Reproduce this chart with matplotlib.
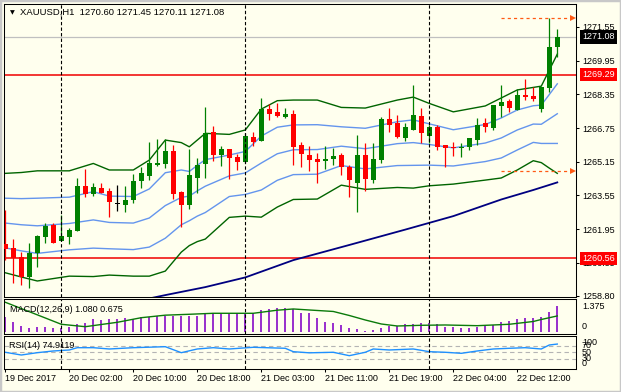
import numpy as np
import matplotlib.pyplot as plt
from matplotlib.transforms import blended_transform_factory
from matplotlib.patches import Rectangle

plt.rcParams['font.family'] = ['Liberation Sans', 'DejaVu Sans']
plt.rcParams['axes.linewidth'] = 0.75

# ---------- Data ---------- #
symbol = "XAUUSD,H1"

opens = [1261.24, 1261.07, 1260.64, 1259.69, 1260.80, 1261.59, 1262.14, 1261.40, 1261.59, 1261.87,
         1264.00, 1263.62, 1263.90, 1263.76, 1263.13, 1263.08, 1263.33, 1264.25, 1264.47, 1264.99,
         1265.04, 1265.66, 1263.71, 1263.11, 1264.39, 1265.03, 1266.56, 1265.48, 1265.74, 1265.37,
         1265.15, 1266.32, 1266.15, 1267.64, 1267.50, 1267.29, 1267.40, 1265.93, 1265.47, 1265.28,
         1265.18, 1265.28, 1265.47, 1264.91, 1264.15, 1265.47, 1264.28, 1265.23, 1267.18, 1267.00,
         1266.26, 1266.66, 1267.32, 1266.39, 1266.81, 1265.94, 1265.85, 1265.80, 1265.86, 1266.18,
         1266.97, 1266.74, 1267.81, 1268.05, 1267.61, 1268.32, 1268.27, 1267.65, 1268.66, 1270.60]
highs = [1262.86, 1261.48, 1260.86, 1261.28, 1261.67, 1262.22, 1262.22, 1262.62, 1261.99, 1264.36,
         1264.79, 1264.15, 1264.15, 1263.89, 1264.04, 1264.00, 1264.57, 1264.91, 1266.10, 1266.23,
         1266.21, 1265.94, 1263.75, 1265.75, 1265.31, 1267.76, 1266.85, 1265.90, 1265.76, 1265.52,
         1266.51, 1266.55, 1268.19, 1267.88, 1267.92, 1267.69, 1267.61, 1266.10, 1265.90, 1265.55,
         1265.88, 1265.79, 1265.58, 1264.99, 1266.42, 1266.02, 1266.02, 1267.29, 1267.71, 1267.37,
         1266.97, 1268.79, 1267.71, 1266.89, 1266.89, 1265.94, 1266.10, 1266.05, 1266.29, 1267.21,
         1267.21, 1267.84, 1268.79, 1268.13, 1268.60, 1269.08, 1268.68, 1268.68, 1271.99, 1271.45]
lows = [1260.48, 1259.40, 1259.30, 1259.14, 1260.14, 1261.30, 1261.28, 1261.40, 1261.23, 1261.87,
        1263.49, 1263.52, 1263.65, 1262.51, 1262.82, 1262.75, 1263.20, 1263.89, 1264.28, 1264.95,
        1264.84, 1263.36, 1262.06, 1262.89, 1263.65, 1264.39, 1265.20, 1264.95, 1264.31, 1264.76,
        1265.09, 1265.91, 1266.15, 1267.13, 1267.26, 1267.21, 1264.99, 1264.91, 1264.72, 1264.15,
        1264.80, 1264.99, 1264.52, 1263.49, 1262.78, 1263.77, 1264.12, 1265.10, 1266.55, 1266.26,
        1266.15, 1266.66, 1266.02, 1266.02, 1265.71, 1264.88, 1265.43, 1265.39, 1265.71, 1265.94,
        1266.55, 1266.66, 1267.29, 1267.50, 1267.61, 1268.08, 1268.05, 1267.52, 1268.47, 1270.11]
closes = [1261.03, 1260.56, 1259.69, 1260.80, 1261.62, 1262.10, 1261.30, 1261.62, 1261.91, 1264.00,
          1263.62, 1263.93, 1263.68, 1263.25, 1263.13, 1263.33, 1264.23, 1264.63, 1265.07, 1265.09,
          1265.66, 1263.60, 1263.11, 1264.52, 1265.01, 1266.51, 1265.48, 1265.74, 1265.34, 1265.15,
          1266.37, 1266.10, 1267.64, 1267.40, 1267.33, 1267.42, 1265.86, 1265.53, 1265.23, 1265.15,
          1265.28, 1265.44, 1264.91, 1264.28, 1265.47, 1264.33, 1265.28, 1267.18, 1266.89, 1266.34,
          1266.78, 1267.37, 1266.51, 1266.80, 1265.85, 1265.79, 1265.80, 1265.85, 1266.29, 1266.89,
          1266.78, 1267.84, 1267.99, 1267.71, 1268.32, 1268.24, 1268.13, 1268.68, 1270.58, 1271.08]

time_ticks = [0, 8, 16, 24, 32, 40, 48, 56, 64]
time_labels = ["19 Dec 2017", "20 Dec 02:00", "20 Dec 10:00", "20 Dec 18:00", "21 Dec 03:00",
               "21 Dec 11:00", "21 Dec 19:00", "22 Dec 04:00", "22 Dec 12:00"]
day_breaks = [7, 30, 53]

price_ticks = [1258.80, 1260.35, 1261.95, 1263.55, 1265.15, 1266.75, 1268.35, 1269.95, 1271.55]
bid_price = 1271.08
resistance = 1269.29
support = 1260.56
marker_start = 62
marker_levels = [1271.99, 1264.69]

# Bollinger bands (green = 2 dev, blue = 1 dev + middle)
band_idx = [0, 2, 4, 8, 11, 13, 16, 18, 20, 22, 23, 24, 25, 28, 30, 32,
            34, 36, 39, 42, 45, 49, 51, 53, 56, 60, 62, 64, 66, 67, 68, 69]
bb_upper2 = [1264.60, 1264.64, 1264.72, 1264.72, 1265.07, 1264.76, 1264.76, 1265.23, 1266.18, 1266.06,
             1265.86, 1266.18, 1266.50, 1266.45, 1266.66, 1267.65, 1268.05, 1268.08, 1268.08, 1267.73,
             1267.70, 1268.08, 1268.22, 1267.92, 1267.52, 1267.80, 1268.18, 1268.56, 1268.68, 1268.74,
             1269.50, 1270.26]
bb_upper1 = [1263.42, 1263.40, 1263.42, 1263.47, 1263.73, 1263.52, 1263.50, 1263.86, 1264.63, 1264.76,
             1264.69, 1264.98, 1265.25, 1265.47, 1265.64, 1266.37, 1266.79, 1266.90, 1266.91, 1266.81,
             1266.74, 1267.05, 1267.14, 1266.95, 1266.67, 1266.92, 1267.23, 1267.61, 1267.81, 1267.84,
             1268.34, 1268.85]
bb_middle = [1262.24, 1262.16, 1262.11, 1262.22, 1262.39, 1262.27, 1262.24, 1262.48, 1263.07, 1263.46,
             1263.52, 1263.77, 1263.99, 1264.48, 1264.62, 1265.09, 1265.53, 1265.72, 1265.73, 1265.89,
             1265.77, 1266.01, 1266.06, 1265.97, 1265.81, 1266.04, 1266.28, 1266.66, 1266.94, 1266.93,
             1267.18, 1267.43]
bb_lower1 = [1261.06, 1260.92, 1260.80, 1260.97, 1261.05, 1261.02, 1260.98, 1261.10, 1261.52, 1262.16,
             1262.35, 1262.57, 1262.74, 1263.50, 1263.60, 1263.81, 1264.27, 1264.54, 1264.56, 1264.97,
             1264.81, 1264.97, 1264.98, 1264.99, 1264.95, 1265.16, 1265.33, 1265.71, 1266.07, 1266.02,
             1266.02, 1266.02]
bb_lower2 = [1259.88, 1259.68, 1259.49, 1259.72, 1259.70, 1259.77, 1259.72, 1259.72, 1259.96, 1260.86,
             1261.17, 1261.36, 1261.48, 1262.51, 1262.57, 1262.52, 1263.00, 1263.36, 1263.38, 1264.04,
             1263.84, 1263.93, 1263.90, 1264.01, 1264.09, 1264.28, 1264.38, 1264.76, 1265.20, 1265.11,
             1264.85, 1264.60]

# slow moving average (navy)
ma_idx = [17, 20, 25, 30, 36, 43, 50, 56, 62, 66, 69]
ma_slow = [1258.58, 1258.82, 1259.20, 1259.66, 1260.48, 1261.20, 1261.93, 1262.57, 1263.36, 1263.81, 1264.17]

# MACD
macd_label = "MACD(12,26,9) 1.080 0.675"
macd_hist = [0.646, 0.439, 0.260, 0.191, 0.205, 0.205, 0.191, 0.164, 0.233, 0.329,
             0.371, 0.536, 0.508, 0.550, 0.550, 0.577, 0.550, 0.646, 0.646, 0.687,
             0.687, 0.687, 0.687, 0.687, 0.687, 0.784, 0.784, 0.784, 0.784, 0.784,
             0.784, 0.784, 0.921, 0.949, 1.018, 1.018, 0.963, 0.784, 0.784, 0.577,
             0.439, 0.371, 0.302, 0.164, 0.136, 0.054, 0.081, 0.164, 0.260, 0.274,
             0.329, 0.329, 0.371, 0.371, 0.329, 0.233, 0.233, 0.191, 0.191, 0.233,
             0.274, 0.302, 0.412, 0.467, 0.550, 0.577, 0.605, 0.646, 0.825, 1.080]
sig_idx = [0, 3, 7, 10, 14, 17, 20, 23, 26, 31, 34, 36, 38, 41, 43, 45, 47, 49, 52, 55, 59, 63, 66, 67, 69]
macd_signal = [1.240, 0.851, 0.331, 0.231, 0.413, 0.603, 0.707, 0.744, 0.785, 0.785, 0.913, 0.963, 0.921,
               0.860, 0.694, 0.508, 0.343, 0.260, 0.289, 0.302, 0.273, 0.331, 0.446, 0.529, 0.675]

# RSI
rsi_label = "RSI(14) 74.9119"
rsi_idx = [0, 2, 4, 6, 8, 9, 11, 13, 16, 20, 22, 24, 26, 28, 31, 35, 36, 38, 41, 43, 45, 46,
           48, 51, 53, 55, 57, 59, 61, 63, 65, 67, 68, 69]
rsi_vals = [50.2, 42.0, 49.0, 54.1, 57.1, 64.0, 64.0, 60.1, 64.0, 67.0, 49.0, 60.1, 64.0, 60.1, 65.2,
            62.2, 52.0, 48.6, 50.2, 40.0, 50.2, 60.1, 57.1, 60.1, 52.0, 50.2, 47.1, 54.1, 60.1, 62.2,
            64.0, 60.1, 72.1, 74.91]

# ---------- Style ---------- #
BG = '#ffffee'
UP = '#008000'
DOWN = '#ff0000'
ORANGE = '#ff5a14'
FS = 6.5
W, H = 621, 392

fig = plt.figure(figsize=(W / 100, H / 100), dpi=100, facecolor=BG)


def px_axes(x0, y0, x1, y1):
    return fig.add_axes([x0 / W, 1 - y1 / H, (x1 - x0) / W, (y1 - y0) / H], facecolor=BG)


ax = px_axes(4.3, 4, 576, 297)
ax_macd = px_axes(4.3, 299, 576, 334.3)
ax_rsi = px_axes(4.3, 335.7, 576, 369)

xlim = (-0.125, 71.34)

# ---------- Main panel ---------- #
o, h, l, c = map(np.array, (opens, highs, lows, closes))
x = np.arange(len(o))
col = np.where(c > o, UP, np.where(c < o, DOWN, 'black'))
ax.vlines(x, l, h, colors=col, lw=0.9, zorder=3)
ax.bar(x, np.maximum(np.abs(c - o), 0.05), bottom=np.minimum(o, c), width=0.62,
       color=col, linewidth=0, zorder=3)

ax.plot(band_idx, bb_upper2, color='#006400', lw=1)
ax.plot(band_idx, bb_lower2, color='#006400', lw=1)
for line in (bb_upper1, bb_middle, bb_lower1):
    ax.plot(band_idx, line, color='#6495ed', lw=1)
ax.plot(ma_idx, ma_slow, color='#000080', lw=1.3)

ax.axhline(bid_price, color='#c0c0c0', lw=0.9, zorder=1)
ax.axhline(resistance, color='#f00000', lw=1.1, zorder=1)
ax.axhline(support, color='#f00000', lw=1.1, zorder=1)

for lvl in marker_levels:
    ax.plot([marker_start, 70.6], [lvl, lvl], color=ORANGE, lw=0.9, ls=(0, (2.5, 2.5)))
    ax.plot(71.0, lvl, marker='>', color=ORANGE, ms=4, mew=0)

ax.set_xlim(*xlim)
ax.set_ylim(1258.73, 1272.64)
ax.set_xticks([])
ax.yaxis.tick_right()
ax.set_yticks(price_ticks)
ax.set_yticklabels([f'{v:.2f}' for v in price_ticks])
ax.tick_params(axis='y', length=2.2, width=0.75, pad=2.5, labelsize=FS)

tr = blended_transform_factory(ax.transAxes, ax.transData)
for val, fc in [(bid_price, 'black'), (resistance, '#ff0000'), (support, '#ff0000')]:
    ax.text(1.0105, val, f'{val:.2f}', transform=tr, ha='left', va='center', color='white',
            fontsize=FS, clip_on=False, zorder=6,
            bbox=dict(boxstyle='square,pad=0.25', fc=fc, ec='none'))

# ---------- MACD ---------- #
ax_macd.bar(x, macd_hist, width=0.22, color='#9a32cd', linewidth=0)
ax_macd.plot(sig_idx, macd_signal, color='#0a7a0a', lw=1)
ax_macd.set_xlim(*xlim)
ax_macd.set_ylim(-0.083, 1.375)
ax_macd.set_xticks([])
ax_macd.set_yticks([])
ax_macd.text(1.0105, 0.782, '1.375', transform=ax_macd.transAxes, fontsize=FS, va='center')
ax_macd.text(1.0105, 0.215, '0', transform=ax_macd.transAxes, fontsize=FS, va='center')

# ---------- RSI ---------- #
for lvl in (70, 50, 30):
    ax_rsi.axhline(lvl, color='#b4b4b4', lw=0.8, ls=(0, (4, 3)))
ax_rsi.plot(rsi_idx, rsi_vals, color='#1e90ff', lw=1)
ax_rsi.set_xlim(*xlim)
ax_rsi.set_ylim(0, 100)
ax_rsi.set_yticks([])
for lab, frac in [('100', 0.79), ('70', 0.72), ('50', 0.50), ('30', 0.32), ('0', 0.17)]:
    ax_rsi.text(1.0105, frac, lab, transform=ax_rsi.transAxes, fontsize=FS, va='center')
ax_rsi.set_xticks(time_ticks)
ax_rsi.set_xticklabels(time_labels)
ax_rsi.tick_params(axis='x', length=2.2, width=0.75, pad=1.5, labelsize=FS)
for lab in ax_rsi.get_xticklabels():
    lab.set_ha('left')

# day separators
for a in (ax, ax_macd, ax_rsi):
    for d in day_breaks:
        a.axvline(d, color='black', lw=0.8, ls=(0, (3, 2)), zorder=4)

# ---------- Labels ---------- #
fig.text(20 / W, 1 - 12.7 / H,
         f"{symbol}  {opens[-1]:.2f} {highs[-1]:.2f} {lows[-1]:.2f} {closes[-1]:.2f}",
         fontsize=6.8, va='center')
fig.text(12.2 / W, 1 - 12.8 / H, '\u25bc', fontsize=4.5, ha='center', va='center',
         family='DejaVu Sans')
fig.text(10 / W, 1 - 309 / H, macd_label, fontsize=FS, va='center')
fig.text(9 / W, 1 - 345 / H, rsi_label, fontsize=FS, va='center')

fig.patches.append(Rectangle((0, 0), 1, 1, transform=fig.transFigure, fill=False,
                             ec='#c8c8c8', lw=2.5))

fig.savefig('out.png', dpi=100, facecolor=BG)
